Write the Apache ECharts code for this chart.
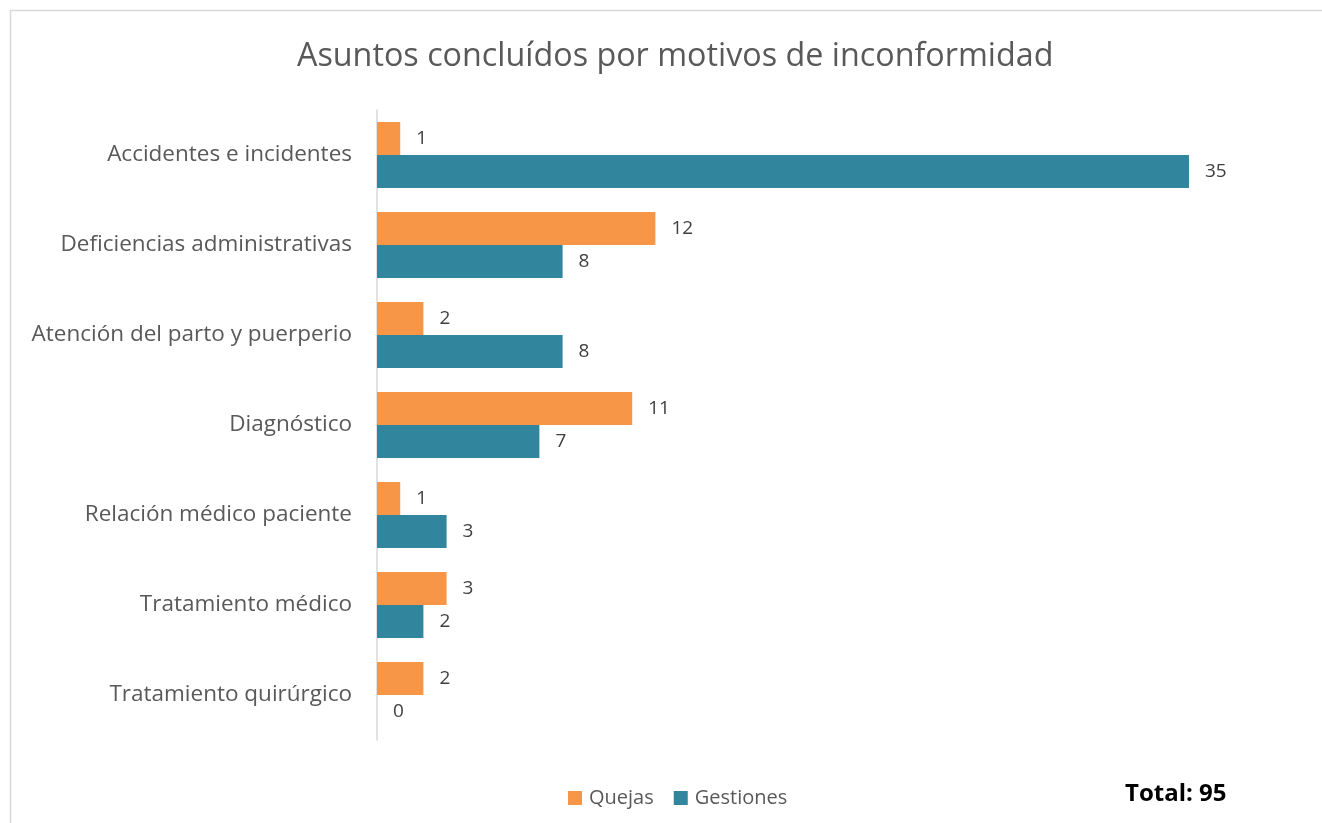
<!DOCTYPE html>
<html>
<head>
<meta charset="utf-8">
<script src="https://cdn.jsdelivr.net/npm/echarts@6/dist/echarts.min.js"></script>
<style>
html, body { margin: 0; padding: 0; background: #fff; }
#chart { width: 1322px; height: 823px; }
</style>
</head>
<body>
<div id="chart"></div>
<script>
// categorías (de arriba hacia abajo)
var categorias = [
	"Accidentes e incidentes",
	"Deficiencias administrativas",
	"Atención del parto y puerperio",
	"Diagnóstico",
	"Relación médico paciente",
	"Tratamiento médico",
	"Tratamiento quirúrgico"
];
var quejas = [1, 12, 2, 11, 1, 3, 2];
var gestiones = [35, 8, 8, 7, 3, 2, 0];
var totalTexto = "Total: 95";

var fuente = "'Open Sans', 'Noto Sans', sans-serif";

$init();

function $init() {
	var dom = document.getElementById("chart");
	var myChart = echarts.init(dom);
	var etiqueta = {
		show: true,
		position: 'right',
		distance: 16,
		fontSize: 19,
		color: '#404040',
		fontFamily: fuente
	};
	var option = {
		backgroundColor: '#fff',
		animation: false,
		color: ['#F79646', '#31859C'],
		title: [
			{
				text: 'Asuntos concluídos por motivos de inconformidad',
				left: 292,
				top: 36,
				textStyle: { fontSize: 32.3, fontWeight: 'normal', color: '#595959', fontFamily: fuente }
			},
			{
				text: totalTexto,
				left: 1120,
				top: 777,
				textStyle: { fontSize: 24, fontWeight: 'bold', color: '#000', fontFamily: fuente }
			}
		],
		graphic: [{
			type: 'rect',
			shape: { x: 10.5, y: 10.5, width: 1330, height: 830 },
			style: { fill: null, stroke: '#d9d9d9', lineWidth: 1.5 },
			silent: true
		}],
		legend: {
			data: ['Quejas', 'Gestiones'],
			left: 563,
			top: 783,
			itemWidth: 14,
			itemHeight: 14,
			itemGap: 20,
			icon: 'rect',
			textStyle: { fontSize: 20, color: '#595959', fontFamily: fuente, padding: [0, 0, 0, 2] }
		},
		grid: {
			left: 377,
			top: 110,
			width: 928,
			height: 630,
			containLabel: false
		},
		xAxis: {
			type: 'value',
			min: 0,
			max: 40,
			show: false
		},
		yAxis: {
			type: 'category',
			inverse: true,
			data: categorias,
			axisLine: { show: true, lineStyle: { color: '#d9d9d9', width: 1.5 } },
			axisTick: { show: false },
			axisLabel: { margin: 25, fontSize: 22.5, color: '#595959', fontFamily: fuente }
		},
		series: [
			{
				name: 'Quejas',
				type: 'bar',
				data: quejas,
				barGap: '0%',
				barCategoryGap: '26.7%',
				label: etiqueta
			},
			{
				name: 'Gestiones',
				type: 'bar',
				data: gestiones,
				barGap: '0%',
				barCategoryGap: '26.7%',
				label: etiqueta
			}
		]
	};
	if (option && typeof option === "object") {
		myChart.setOption(option, true);
	}
}
</script>
</body>
</html>
